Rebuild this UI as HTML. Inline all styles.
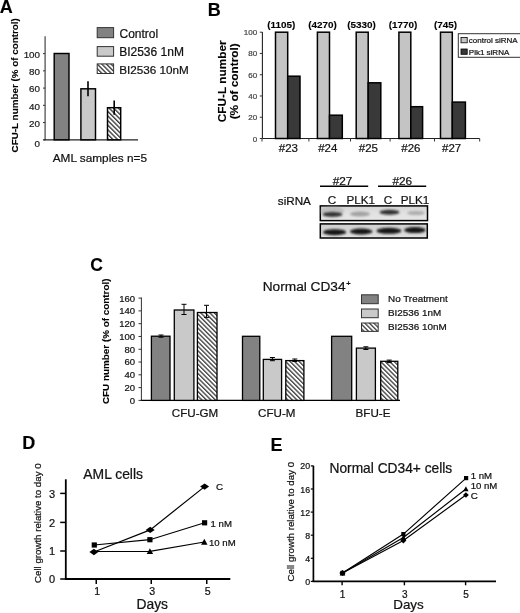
<!DOCTYPE html>
<html><head><meta charset="utf-8"><style>
html,body{margin:0;padding:0;background:#fff;}
svg{display:block;filter:blur(0.3px);}
text{paint-order:stroke;}
text{font-family:"Liberation Sans", sans-serif;}
</style></head><body>
<svg width="520" height="613" viewBox="0 0 520 613">
<defs>
<pattern id="hatch" patternUnits="userSpaceOnUse" width="3.25" height="3.25" patternTransform="rotate(-45)">
<rect width="3.25" height="3.25" fill="#fff"/><line x1="0.7" y1="0" x2="0.7" y2="3.25" stroke="#333" stroke-width="1.3"/></pattern>
<pattern id="hatchC" patternUnits="userSpaceOnUse" width="3.2" height="3.2" patternTransform="rotate(-45)">
<rect width="3.2" height="3.2" fill="#fff"/><line x1="0.7" y1="0" x2="0.7" y2="3.2" stroke="#333" stroke-width="1.25"/></pattern>
<linearGradient id="blot1" x1="0" y1="0" x2="0" y2="1"><stop offset="0" stop-color="#d4d4d4"/><stop offset="0.5" stop-color="#e2e2e2"/><stop offset="1" stop-color="#e6e6e6"/></linearGradient>
<linearGradient id="blot2" x1="0" y1="0" x2="0" y2="1"><stop offset="0" stop-color="#cfcfcf"/><stop offset="1" stop-color="#e0e0e0"/></linearGradient>
<filter id="blur" x="-50%" y="-50%" width="200%" height="200%"><feGaussianBlur stdDeviation="0.9"/></filter>
</defs>
<rect width="520" height="613" fill="#fff"/>
<text x="-0.20" y="12.80" font-size="18" font-weight="bold" text-anchor="start" fill="#000"  stroke="#000" stroke-width="0.12">A</text>
<line x1="45.10" y1="36.30" x2="45.10" y2="140.30" stroke="#444" stroke-width="1.2"/>
<line x1="43.50" y1="139.80" x2="138.00" y2="139.80" stroke="#222" stroke-width="1.2"/>
<line x1="43.00" y1="139.80" x2="45.10" y2="139.80" stroke="#333" stroke-width="1"/>
<text x="40.00" y="147.40" font-size="9.8" font-weight="normal" text-anchor="end" fill="#1a1a1a"  stroke="#1a1a1a" stroke-width="0.22">0</text>
<line x1="43.00" y1="122.56" x2="45.10" y2="122.56" stroke="#333" stroke-width="1"/>
<text x="40.00" y="126.76" font-size="9.8" font-weight="normal" text-anchor="end" fill="#1a1a1a"  stroke="#1a1a1a" stroke-width="0.22">20</text>
<line x1="43.00" y1="105.32" x2="45.10" y2="105.32" stroke="#333" stroke-width="1"/>
<text x="40.00" y="109.52" font-size="9.8" font-weight="normal" text-anchor="end" fill="#1a1a1a"  stroke="#1a1a1a" stroke-width="0.22">40</text>
<line x1="43.00" y1="88.08" x2="45.10" y2="88.08" stroke="#333" stroke-width="1"/>
<text x="40.00" y="92.28" font-size="9.8" font-weight="normal" text-anchor="end" fill="#1a1a1a"  stroke="#1a1a1a" stroke-width="0.22">60</text>
<line x1="43.00" y1="70.84" x2="45.10" y2="70.84" stroke="#333" stroke-width="1"/>
<text x="40.00" y="75.04" font-size="9.8" font-weight="normal" text-anchor="end" fill="#1a1a1a"  stroke="#1a1a1a" stroke-width="0.22">80</text>
<line x1="43.00" y1="53.60" x2="45.10" y2="53.60" stroke="#333" stroke-width="1"/>
<text x="40.00" y="57.80" font-size="9.8" font-weight="normal" text-anchor="end" fill="#1a1a1a"  stroke="#1a1a1a" stroke-width="0.22">100</text>
<rect x="54.20" y="53.50" width="14.80" height="86.30" fill="#828282" stroke="#000" stroke-width="1.45"/>
<rect x="80.90" y="88.80" width="14.60" height="51.00" fill="#c9c9c9" stroke="#000" stroke-width="1.45"/>
<rect x="107.50" y="107.70" width="13.20" height="32.10" fill="url(#hatch)" stroke="#000" stroke-width="1.45"/>
<line x1="88.00" y1="81.20" x2="88.00" y2="96.20" stroke="#000" stroke-width="1.6"/>
<line x1="114.20" y1="100.40" x2="114.20" y2="114.80" stroke="#000" stroke-width="1.6"/>
<rect x="97.20" y="27.60" width="16.40" height="10.10" fill="#828282" stroke="#333" stroke-width="1"/>
<rect x="97.20" y="46.60" width="16.40" height="9.60" fill="#c9c9c9" stroke="#333" stroke-width="1"/>
<rect x="97.20" y="63.90" width="16.40" height="9.60" fill="url(#hatch)" stroke="#333" stroke-width="1"/>
<text x="119.50" y="38.20" font-size="12" font-weight="normal" text-anchor="start" fill="#111"  stroke="#111" stroke-width="0.22">Control</text>
<text x="119.20" y="56.30" font-size="12" font-weight="normal" text-anchor="start" fill="#111"  stroke="#111" stroke-width="0.22">BI2536 1nM</text>
<text x="119.20" y="73.80" font-size="11.7" font-weight="normal" text-anchor="start" fill="#111"  stroke="#111" stroke-width="0.22">BI2536 10nM</text>
<text x="18.1" y="85.3" font-size="9.85" font-weight="bold" text-anchor="middle" fill="#000" transform="rotate(-90 18.1 85.3)"  stroke="#000" stroke-width="0.12">CFU-L number (% of control)</text>
<text x="52.70" y="161.60" font-size="11.8" font-weight="normal" text-anchor="start" fill="#111"  stroke="#111" stroke-width="0.22">AML samples n=5</text>
<text x="207.80" y="15.80" font-size="18" font-weight="bold" text-anchor="start" fill="#000"  stroke="#000" stroke-width="0.12">B</text>
<line x1="262.40" y1="31.90" x2="262.40" y2="138.50" stroke="#222" stroke-width="1.1"/>
<line x1="262.40" y1="138.50" x2="479.70" y2="138.50" stroke="#222" stroke-width="1.1"/>
<line x1="259.80" y1="138.50" x2="262.40" y2="138.50" stroke="#333" stroke-width="1"/>
<text x="257.20" y="141.50" font-size="8" font-weight="normal" text-anchor="end" fill="#444"  stroke="#444" stroke-width="0.22">0</text>
<line x1="259.80" y1="117.24" x2="262.40" y2="117.24" stroke="#333" stroke-width="1"/>
<text x="257.20" y="120.24" font-size="8" font-weight="normal" text-anchor="end" fill="#444"  stroke="#444" stroke-width="0.22">20</text>
<line x1="259.80" y1="95.98" x2="262.40" y2="95.98" stroke="#333" stroke-width="1"/>
<text x="257.20" y="98.98" font-size="8" font-weight="normal" text-anchor="end" fill="#444"  stroke="#444" stroke-width="0.22">40</text>
<line x1="259.80" y1="74.72" x2="262.40" y2="74.72" stroke="#333" stroke-width="1"/>
<text x="257.20" y="77.72" font-size="8" font-weight="normal" text-anchor="end" fill="#444"  stroke="#444" stroke-width="0.22">60</text>
<line x1="259.80" y1="53.46" x2="262.40" y2="53.46" stroke="#333" stroke-width="1"/>
<text x="257.20" y="56.46" font-size="8" font-weight="normal" text-anchor="end" fill="#444"  stroke="#444" stroke-width="0.22">80</text>
<line x1="259.80" y1="32.20" x2="262.40" y2="32.20" stroke="#333" stroke-width="1"/>
<text x="257.20" y="35.20" font-size="8" font-weight="normal" text-anchor="end" fill="#444"  stroke="#444" stroke-width="0.22">100</text>
<line x1="262.00" y1="138.50" x2="262.00" y2="141.50" stroke="#333" stroke-width="1"/>
<line x1="308.90" y1="138.50" x2="308.90" y2="141.50" stroke="#333" stroke-width="1"/>
<line x1="350.50" y1="138.50" x2="350.50" y2="141.50" stroke="#333" stroke-width="1"/>
<line x1="390.10" y1="138.50" x2="390.10" y2="141.50" stroke="#333" stroke-width="1"/>
<line x1="434.50" y1="138.50" x2="434.50" y2="141.50" stroke="#333" stroke-width="1"/>
<line x1="479.70" y1="138.50" x2="479.70" y2="141.50" stroke="#333" stroke-width="1"/>
<rect x="275.50" y="32.20" width="12.20" height="106.30" fill="#c4c4c4" stroke="#000" stroke-width="1.5"/>
<rect x="287.70" y="76.20" width="12.30" height="62.30" fill="#393939" stroke="#000" stroke-width="1.5"/>
<text x="281.20" y="28.40" font-size="9.9" font-weight="bold" text-anchor="middle" fill="#000"  stroke="#000" stroke-width="0.12">(1105)</text>
<text x="288.40" y="151.80" font-size="11.5" font-weight="normal" text-anchor="middle" fill="#111"  stroke="#111" stroke-width="0.22">#23</text>
<rect x="317.40" y="32.20" width="12.10" height="106.30" fill="#c4c4c4" stroke="#000" stroke-width="1.5"/>
<rect x="329.50" y="115.20" width="12.80" height="23.30" fill="#393939" stroke="#000" stroke-width="1.5"/>
<text x="322.60" y="28.40" font-size="9.9" font-weight="bold" text-anchor="middle" fill="#000"  stroke="#000" stroke-width="0.12">(4270)</text>
<text x="327.75" y="151.80" font-size="11.5" font-weight="normal" text-anchor="middle" fill="#111"  stroke="#111" stroke-width="0.22">#24</text>
<rect x="356.20" y="32.20" width="12.00" height="106.30" fill="#c4c4c4" stroke="#000" stroke-width="1.5"/>
<rect x="368.20" y="82.80" width="12.60" height="55.70" fill="#393939" stroke="#000" stroke-width="1.5"/>
<text x="361.50" y="28.40" font-size="9.9" font-weight="bold" text-anchor="middle" fill="#000"  stroke="#000" stroke-width="0.12">(5330)</text>
<text x="368.40" y="151.80" font-size="11.5" font-weight="normal" text-anchor="middle" fill="#111"  stroke="#111" stroke-width="0.22">#25</text>
<rect x="398.90" y="32.20" width="11.90" height="106.30" fill="#c4c4c4" stroke="#000" stroke-width="1.5"/>
<rect x="410.80" y="106.70" width="11.80" height="31.80" fill="#393939" stroke="#000" stroke-width="1.5"/>
<text x="402.90" y="28.40" font-size="9.9" font-weight="bold" text-anchor="middle" fill="#000"  stroke="#000" stroke-width="0.12">(1770)</text>
<text x="410.90" y="151.80" font-size="11.5" font-weight="normal" text-anchor="middle" fill="#111"  stroke="#111" stroke-width="0.22">#26</text>
<rect x="440.50" y="32.20" width="11.80" height="106.30" fill="#c4c4c4" stroke="#000" stroke-width="1.5"/>
<rect x="452.30" y="102.10" width="13.10" height="36.40" fill="#393939" stroke="#000" stroke-width="1.5"/>
<text x="445.50" y="28.40" font-size="9.9" font-weight="bold" text-anchor="middle" fill="#000"  stroke="#000" stroke-width="0.12">(745)</text>
<text x="451.60" y="151.80" font-size="11.5" font-weight="normal" text-anchor="middle" fill="#111"  stroke="#111" stroke-width="0.22">#27</text>
<rect x="458.30" y="33.70" width="62.70" height="23.60" fill="#fff" stroke="#333" stroke-width="1"/>
<rect x="461.00" y="37.40" width="6.20" height="5.40" fill="#c4c4c4" stroke="#000" stroke-width="0.8"/>
<rect x="461.00" y="49.00" width="6.20" height="5.30" fill="#393939" stroke="#000" stroke-width="0.8"/>
<text x="468.80" y="43.20" font-size="8" font-weight="normal" text-anchor="start" fill="#111"  stroke="#111" stroke-width="0.22">control siRNA</text>
<text x="468.80" y="54.90" font-size="8" font-weight="normal" text-anchor="start" fill="#111"  stroke="#111" stroke-width="0.22">Plk1 siRNA</text>
<text x="225.9" y="81.3" font-size="11.8" font-weight="bold" text-anchor="middle" fill="#000" transform="rotate(-90 225.9 81.3)"  stroke="#000" stroke-width="0.12">CFU-L number</text>
<text x="238.2" y="81.3" font-size="11.8" font-weight="bold" text-anchor="middle" fill="#000" transform="rotate(-90 238.2 81.3)"  stroke="#000" stroke-width="0.12">(% of control)</text>
<text x="342.60" y="185.20" font-size="11.8" font-weight="normal" text-anchor="middle" fill="#111"  stroke="#111" stroke-width="0.22">#27</text>
<text x="402.30" y="185.20" font-size="11.8" font-weight="normal" text-anchor="middle" fill="#111"  stroke="#111" stroke-width="0.22">#26</text>
<line x1="320.00" y1="186.30" x2="368.20" y2="186.30" stroke="#000" stroke-width="1.6"/>
<line x1="378.00" y1="186.30" x2="426.20" y2="186.30" stroke="#000" stroke-width="1.6"/>
<text x="277.80" y="204.60" font-size="11.7" font-weight="normal" text-anchor="start" fill="#111"  stroke="#111" stroke-width="0.22">siRNA</text>
<text x="332.00" y="203.80" font-size="11.7" font-weight="normal" text-anchor="middle" fill="#111"  stroke="#111" stroke-width="0.22">C</text>
<text x="360.80" y="203.80" font-size="11.7" font-weight="normal" text-anchor="middle" fill="#111"  stroke="#111" stroke-width="0.22">PLK1</text>
<text x="388.00" y="203.80" font-size="11.7" font-weight="normal" text-anchor="middle" fill="#111"  stroke="#111" stroke-width="0.22">C</text>
<text x="415.00" y="203.80" font-size="11.7" font-weight="normal" text-anchor="middle" fill="#111"  stroke="#111" stroke-width="0.22">PLK1</text>
<rect x="320.30" y="205.90" width="107.20" height="14.70" fill="url(#blot1)" stroke="#000" stroke-width="1.5"/>
<rect x="320.30" y="223.90" width="107.00" height="14.10" fill="url(#blot2)" stroke="#000" stroke-width="1.5"/>
<g filter="url(#blur)">
<ellipse cx="332" cy="211" rx="12" ry="5" fill="#9a9a9a" opacity="0.45"/>
<ellipse cx="332.5" cy="214.4" rx="10" ry="2.7" fill="#222" opacity="0.88"/>
<ellipse cx="360" cy="214" rx="10" ry="2.5" fill="#777" opacity="0.6"/>
<ellipse cx="389.5" cy="212.3" rx="10" ry="2.5" fill="#1a1a1a" opacity="0.88"/>
<ellipse cx="416" cy="213" rx="9" ry="2.1" fill="#888" opacity="0.6"/>
<ellipse cx="334.6" cy="232.2" rx="11.6" ry="3.0" fill="#141414"/>
<ellipse cx="361.2" cy="231.5" rx="11.3" ry="3.0" fill="#141414"/>
<ellipse cx="388.9" cy="230.8" rx="12.5" ry="3.0" fill="#141414"/>
<ellipse cx="414.9" cy="230.1" rx="10.8" ry="3.0" fill="#141414"/>
</g>
<text x="90.30" y="271.40" font-size="17.5" font-weight="bold" text-anchor="start" fill="#000"  stroke="#000" stroke-width="0.12">C</text>
<line x1="141.40" y1="297.50" x2="141.40" y2="400.40" stroke="#333" stroke-width="1"/>
<line x1="140.90" y1="400.40" x2="400.00" y2="400.40" stroke="#000" stroke-width="1.3"/>
<line x1="138.50" y1="400.40" x2="141.40" y2="400.40" stroke="#333" stroke-width="1"/>
<text x="135.00" y="403.80" font-size="9.5" font-weight="normal" text-anchor="end" fill="#111"  stroke="#111" stroke-width="0.22">0</text>
<line x1="138.50" y1="387.61" x2="141.40" y2="387.61" stroke="#333" stroke-width="1"/>
<text x="135.00" y="391.01" font-size="9.5" font-weight="normal" text-anchor="end" fill="#111"  stroke="#111" stroke-width="0.22">20</text>
<line x1="138.50" y1="374.82" x2="141.40" y2="374.82" stroke="#333" stroke-width="1"/>
<text x="135.00" y="378.22" font-size="9.5" font-weight="normal" text-anchor="end" fill="#111"  stroke="#111" stroke-width="0.22">40</text>
<line x1="138.50" y1="362.04" x2="141.40" y2="362.04" stroke="#333" stroke-width="1"/>
<text x="135.00" y="365.44" font-size="9.5" font-weight="normal" text-anchor="end" fill="#111"  stroke="#111" stroke-width="0.22">60</text>
<line x1="138.50" y1="349.25" x2="141.40" y2="349.25" stroke="#333" stroke-width="1"/>
<text x="135.00" y="352.65" font-size="9.5" font-weight="normal" text-anchor="end" fill="#111"  stroke="#111" stroke-width="0.22">80</text>
<line x1="138.50" y1="336.46" x2="141.40" y2="336.46" stroke="#333" stroke-width="1"/>
<text x="135.00" y="339.86" font-size="9.5" font-weight="normal" text-anchor="end" fill="#111"  stroke="#111" stroke-width="0.22">100</text>
<line x1="138.50" y1="323.68" x2="141.40" y2="323.68" stroke="#333" stroke-width="1"/>
<text x="135.00" y="327.07" font-size="9.5" font-weight="normal" text-anchor="end" fill="#111"  stroke="#111" stroke-width="0.22">120</text>
<line x1="138.50" y1="310.89" x2="141.40" y2="310.89" stroke="#333" stroke-width="1"/>
<text x="135.00" y="314.29" font-size="9.5" font-weight="normal" text-anchor="end" fill="#111"  stroke="#111" stroke-width="0.22">140</text>
<line x1="138.50" y1="298.10" x2="141.40" y2="298.10" stroke="#333" stroke-width="1"/>
<text x="135.00" y="301.50" font-size="9.5" font-weight="normal" text-anchor="end" fill="#111"  stroke="#111" stroke-width="0.22">160</text>
<rect x="151.40" y="336.20" width="18.60" height="64.20" fill="#828282" stroke="#000" stroke-width="1.3"/>
<rect x="174.30" y="310.00" width="19.60" height="90.40" fill="#c9c9c9" stroke="#000" stroke-width="1.3"/>
<rect x="197.40" y="312.50" width="19.60" height="87.90" fill="url(#hatchC)" stroke="#000" stroke-width="1.3"/>
<rect x="242.50" y="336.30" width="17.30" height="64.10" fill="#828282" stroke="#000" stroke-width="1.3"/>
<rect x="263.30" y="359.40" width="18.30" height="41.00" fill="#c9c9c9" stroke="#000" stroke-width="1.3"/>
<rect x="285.80" y="360.60" width="18.10" height="39.80" fill="url(#hatchC)" stroke="#000" stroke-width="1.3"/>
<rect x="331.60" y="336.30" width="20.10" height="64.10" fill="#828282" stroke="#000" stroke-width="1.3"/>
<rect x="356.40" y="348.10" width="19.00" height="52.30" fill="#c9c9c9" stroke="#000" stroke-width="1.3"/>
<rect x="380.70" y="361.30" width="17.10" height="39.10" fill="url(#hatchC)" stroke="#000" stroke-width="1.3"/>
<line x1="161.00" y1="335.00" x2="161.00" y2="337.20" stroke="#000" stroke-width="1"/>
<line x1="158.50" y1="335.00" x2="163.50" y2="335.00" stroke="#000" stroke-width="1"/>
<line x1="158.50" y1="337.20" x2="163.50" y2="337.20" stroke="#000" stroke-width="1"/>
<line x1="184.00" y1="304.30" x2="184.00" y2="314.50" stroke="#000" stroke-width="1"/>
<line x1="181.50" y1="304.30" x2="186.50" y2="304.30" stroke="#000" stroke-width="1"/>
<line x1="181.50" y1="314.50" x2="186.50" y2="314.50" stroke="#000" stroke-width="1"/>
<line x1="206.50" y1="305.30" x2="206.50" y2="317.40" stroke="#000" stroke-width="1"/>
<line x1="204.00" y1="305.30" x2="209.00" y2="305.30" stroke="#000" stroke-width="1"/>
<line x1="204.00" y1="317.40" x2="209.00" y2="317.40" stroke="#000" stroke-width="1"/>
<line x1="272.40" y1="357.50" x2="272.40" y2="360.70" stroke="#000" stroke-width="1"/>
<line x1="269.90" y1="357.50" x2="274.90" y2="357.50" stroke="#000" stroke-width="1"/>
<line x1="269.90" y1="360.70" x2="274.90" y2="360.70" stroke="#000" stroke-width="1"/>
<line x1="294.80" y1="359.00" x2="294.80" y2="361.50" stroke="#000" stroke-width="1"/>
<line x1="292.30" y1="359.00" x2="297.30" y2="359.00" stroke="#000" stroke-width="1"/>
<line x1="292.30" y1="361.50" x2="297.30" y2="361.50" stroke="#000" stroke-width="1"/>
<line x1="365.90" y1="346.80" x2="365.90" y2="349.50" stroke="#000" stroke-width="1"/>
<line x1="363.40" y1="346.80" x2="368.40" y2="346.80" stroke="#000" stroke-width="1"/>
<line x1="363.40" y1="349.50" x2="368.40" y2="349.50" stroke="#000" stroke-width="1"/>
<line x1="389.20" y1="360.10" x2="389.20" y2="362.60" stroke="#000" stroke-width="1"/>
<line x1="386.70" y1="360.10" x2="391.70" y2="360.10" stroke="#000" stroke-width="1"/>
<line x1="386.70" y1="362.60" x2="391.70" y2="362.60" stroke="#000" stroke-width="1"/>
<text x="262.70" y="291.00" font-size="13.7" font-weight="normal" text-anchor="start" fill="#111"  stroke="#111" stroke-width="0.22">Normal CD34</text>
<text x="346.20" y="286.00" font-size="7.5" font-weight="bold" text-anchor="start" fill="#111"  stroke="#111" stroke-width="0.12">+</text>
<rect x="361.50" y="294.80" width="16.70" height="8.90" fill="#828282" stroke="#333" stroke-width="1"/>
<rect x="361.50" y="309.00" width="16.70" height="8.70" fill="#c9c9c9" stroke="#333" stroke-width="1"/>
<rect x="361.50" y="323.00" width="16.70" height="8.40" fill="url(#hatchC)" stroke="#333" stroke-width="1"/>
<text x="388.00" y="302.30" font-size="9.9" font-weight="normal" text-anchor="start" fill="#111"  stroke="#111" stroke-width="0.22">No Treatment</text>
<text x="388.00" y="316.40" font-size="9.9" font-weight="normal" text-anchor="start" fill="#111"  stroke="#111" stroke-width="0.22">BI2536 1nM</text>
<text x="388.00" y="330.40" font-size="9.9" font-weight="normal" text-anchor="start" fill="#111"  stroke="#111" stroke-width="0.22">BI2536 10nM</text>
<text x="108.8" y="341.3" font-size="9.9" font-weight="bold" text-anchor="middle" fill="#000" transform="rotate(-90 108.8 341.3)"  stroke="#000" stroke-width="0.12">CFU number (% of control)</text>
<text x="195.00" y="416.80" font-size="11.6" font-weight="normal" text-anchor="middle" fill="#111"  stroke="#111" stroke-width="0.22">CFU-GM</text>
<text x="276.80" y="416.80" font-size="11.6" font-weight="normal" text-anchor="middle" fill="#111"  stroke="#111" stroke-width="0.22">CFU-M</text>
<text x="373.00" y="416.80" font-size="11.6" font-weight="normal" text-anchor="middle" fill="#111"  stroke="#111" stroke-width="0.22">BFU-E</text>
<text x="22.30" y="449.40" font-size="18" font-weight="bold" text-anchor="start" fill="#000"  stroke="#000" stroke-width="0.12">D</text>
<line x1="65.80" y1="479.30" x2="65.80" y2="579.00" stroke="#000" stroke-width="1.8"/>
<line x1="64.90" y1="579.00" x2="230.30" y2="579.00" stroke="#000" stroke-width="1.8"/>
<line x1="60.20" y1="579.00" x2="65.80" y2="579.00" stroke="#000" stroke-width="1.5"/>
<text x="55.00" y="583.40" font-size="11" font-weight="normal" text-anchor="end" fill="#111"  stroke="#111" stroke-width="0.22">0</text>
<line x1="60.20" y1="551.00" x2="65.80" y2="551.00" stroke="#000" stroke-width="1.5"/>
<text x="55.00" y="555.40" font-size="11" font-weight="normal" text-anchor="end" fill="#111"  stroke="#111" stroke-width="0.22">1</text>
<line x1="60.20" y1="522.40" x2="65.80" y2="522.40" stroke="#000" stroke-width="1.5"/>
<text x="55.00" y="526.80" font-size="11" font-weight="normal" text-anchor="end" fill="#111"  stroke="#111" stroke-width="0.22">2</text>
<line x1="60.20" y1="493.40" x2="65.80" y2="493.40" stroke="#000" stroke-width="1.5"/>
<text x="55.00" y="497.80" font-size="11" font-weight="normal" text-anchor="end" fill="#111"  stroke="#111" stroke-width="0.22">3</text>
<line x1="96.25" y1="579.00" x2="96.25" y2="584.00" stroke="#000" stroke-width="1.5"/>
<text x="97.15" y="594.60" font-size="10.6" font-weight="normal" text-anchor="middle" fill="#111"  stroke="#111" stroke-width="0.22">1</text>
<line x1="151.25" y1="579.00" x2="151.25" y2="584.00" stroke="#000" stroke-width="1.5"/>
<text x="152.15" y="594.60" font-size="10.6" font-weight="normal" text-anchor="middle" fill="#111"  stroke="#111" stroke-width="0.22">3</text>
<line x1="206.75" y1="579.00" x2="206.75" y2="584.00" stroke="#000" stroke-width="1.5"/>
<text x="207.65" y="594.60" font-size="10.6" font-weight="normal" text-anchor="middle" fill="#111"  stroke="#111" stroke-width="0.22">5</text>
<text x="152.30" y="609.30" font-size="13.8" font-weight="normal" text-anchor="middle" fill="#111"  stroke="#111" stroke-width="0.22">Days</text>
<text x="41" y="523.2" font-size="9.7" font-weight="normal" text-anchor="middle" fill="#111" transform="rotate(-90 41 523.2)"  stroke="#111" stroke-width="0.22">Cell growth relative to day 0</text>
<text x="83.30" y="478.90" font-size="13.9" font-weight="normal" text-anchor="start" fill="#111"  stroke="#111" stroke-width="0.22">AML cells</text>
<polyline points="93.9,552 150.2,529.9 204.6,486.6" fill="none" stroke="#000" stroke-width="1.2"/>
<polyline points="94.3,545 149.9,539.7 204.6,522.8" fill="none" stroke="#000" stroke-width="1.2"/>
<polyline points="93.9,551.5 149.9,551.4 204.3,542" fill="none" stroke="#000" stroke-width="1.2"/>
<rect x="91.7" y="542.4" width="5.2" height="5.2" fill="#000"/>
<rect x="147.3" y="537.1" width="5.2" height="5.2" fill="#000"/>
<rect x="202.0" y="520.1999999999999" width="5.2" height="5.2" fill="#000"/>
<polygon points="146.70000000000002,554.12 149.9,548.1999999999999 153.1,554.12" fill="#000"/>
<polygon points="201.10000000000002,544.72 204.3,538.8 207.5,544.72" fill="#000"/>
<polygon points="89.4,552 93.9,548.8 98.4,552 93.9,555.2" fill="#000"/>
<polygon points="145.7,529.9 150.2,526.6999999999999 154.7,529.9 150.2,533.1" fill="#000"/>
<polygon points="200.1,486.6 204.6,483.40000000000003 209.1,486.6 204.6,489.8" fill="#000"/>
<text x="216.00" y="490.20" font-size="9.8" font-weight="normal" text-anchor="start" fill="#111"  stroke="#111" stroke-width="0.22">C</text>
<text x="210.60" y="526.50" font-size="9.6" font-weight="normal" text-anchor="start" fill="#111"  stroke="#111" stroke-width="0.22">1 nM</text>
<text x="209.00" y="546.00" font-size="9.6" font-weight="normal" text-anchor="start" fill="#111"  stroke="#111" stroke-width="0.22">10 nM</text>
<text x="270.60" y="451.00" font-size="18" font-weight="bold" text-anchor="start" fill="#000"  stroke="#000" stroke-width="0.12">E</text>
<line x1="313.40" y1="465.70" x2="313.40" y2="581.40" stroke="#000" stroke-width="1.7"/>
<line x1="312.60" y1="581.40" x2="496.00" y2="581.40" stroke="#000" stroke-width="1.7"/>
<line x1="310.80" y1="581.40" x2="313.40" y2="581.40" stroke="#000" stroke-width="1.2"/>
<text x="310.10" y="584.90" font-size="8.8" font-weight="normal" text-anchor="end" fill="#111"  stroke="#111" stroke-width="0.22">0</text>
<line x1="310.80" y1="558.30" x2="313.40" y2="558.30" stroke="#000" stroke-width="1.2"/>
<text x="310.10" y="561.80" font-size="8.8" font-weight="normal" text-anchor="end" fill="#111"  stroke="#111" stroke-width="0.22">4</text>
<line x1="310.80" y1="535.20" x2="313.40" y2="535.20" stroke="#000" stroke-width="1.2"/>
<text x="310.10" y="538.70" font-size="8.8" font-weight="normal" text-anchor="end" fill="#111"  stroke="#111" stroke-width="0.22">8</text>
<line x1="310.80" y1="512.10" x2="313.40" y2="512.10" stroke="#000" stroke-width="1.2"/>
<text x="310.10" y="515.60" font-size="8.8" font-weight="normal" text-anchor="end" fill="#111"  stroke="#111" stroke-width="0.22">12</text>
<line x1="310.80" y1="489.00" x2="313.40" y2="489.00" stroke="#000" stroke-width="1.2"/>
<text x="310.10" y="492.50" font-size="8.8" font-weight="normal" text-anchor="end" fill="#111"  stroke="#111" stroke-width="0.22">16</text>
<line x1="310.80" y1="465.90" x2="313.40" y2="465.90" stroke="#000" stroke-width="1.2"/>
<text x="310.10" y="469.40" font-size="8.8" font-weight="normal" text-anchor="end" fill="#111"  stroke="#111" stroke-width="0.22">20</text>
<line x1="342.10" y1="581.40" x2="342.10" y2="585.30" stroke="#000" stroke-width="1.4"/>
<text x="342.60" y="597.60" font-size="10" font-weight="normal" text-anchor="middle" fill="#111"  stroke="#111" stroke-width="0.22">1</text>
<line x1="404.40" y1="581.40" x2="404.40" y2="585.30" stroke="#000" stroke-width="1.4"/>
<text x="404.90" y="597.60" font-size="10" font-weight="normal" text-anchor="middle" fill="#111"  stroke="#111" stroke-width="0.22">3</text>
<line x1="465.60" y1="581.40" x2="465.60" y2="585.30" stroke="#000" stroke-width="1.4"/>
<text x="466.10" y="597.60" font-size="10" font-weight="normal" text-anchor="middle" fill="#111"  stroke="#111" stroke-width="0.22">5</text>
<text x="408.50" y="609.20" font-size="13.4" font-weight="normal" text-anchor="middle" fill="#111"  stroke="#111" stroke-width="0.22">Days</text>
<text x="294.2" y="521.7" font-size="9.7" font-weight="normal" text-anchor="middle" fill="#111" transform="rotate(-90 294.2 521.7)"  stroke="#111" stroke-width="0.22">Cell growth relative to day 0</text>
<text x="329.50" y="473.10" font-size="13.75" font-weight="normal" text-anchor="start" fill="#111"  stroke="#111" stroke-width="0.22">Normal CD34+ cells</text>
<polyline points="342.5,573 403.4,534.1 466.1,478.1" fill="none" stroke="#000" stroke-width="1.15"/>
<polyline points="342.5,573 403.4,537.5 465.9,489" fill="none" stroke="#000" stroke-width="1.15"/>
<polyline points="342.5,573 403.4,540.5 465.9,495" fill="none" stroke="#000" stroke-width="1.15"/>
<rect x="340.3" y="570.8" width="4.4" height="4.4" fill="#000"/>
<rect x="401.29999999999995" y="532.0" width="4.2" height="4.2" fill="#000"/>
<rect x="464.0" y="476.0" width="4.2" height="4.2" fill="#000"/>
<polygon points="339.7,575.38 342.5,570.2 345.3,575.38" fill="#000"/>
<polygon points="400.7,539.795 403.4,534.8 406.09999999999997,539.795" fill="#000"/>
<polygon points="463.2,491.295 465.9,486.3 468.59999999999997,491.295" fill="#000"/>
<polygon points="339.3,573 342.5,570.0 345.7,573 342.5,576.0" fill="#000"/>
<polygon points="400.4,540.5 403.4,537.6 406.4,540.5 403.4,543.4" fill="#000"/>
<polygon points="463.0,495 465.9,492.2 468.79999999999995,495 465.9,497.8" fill="#000"/>
<text x="470.70" y="478.50" font-size="9.6" font-weight="normal" text-anchor="start" fill="#111"  stroke="#111" stroke-width="0.22">1 nM</text>
<text x="470.70" y="489.20" font-size="9.6" font-weight="normal" text-anchor="start" fill="#111"  stroke="#111" stroke-width="0.22">10 nM</text>
<text x="470.70" y="498.70" font-size="9.8" font-weight="normal" text-anchor="start" fill="#111"  stroke="#111" stroke-width="0.22">C</text>
</svg>
</body></html>
